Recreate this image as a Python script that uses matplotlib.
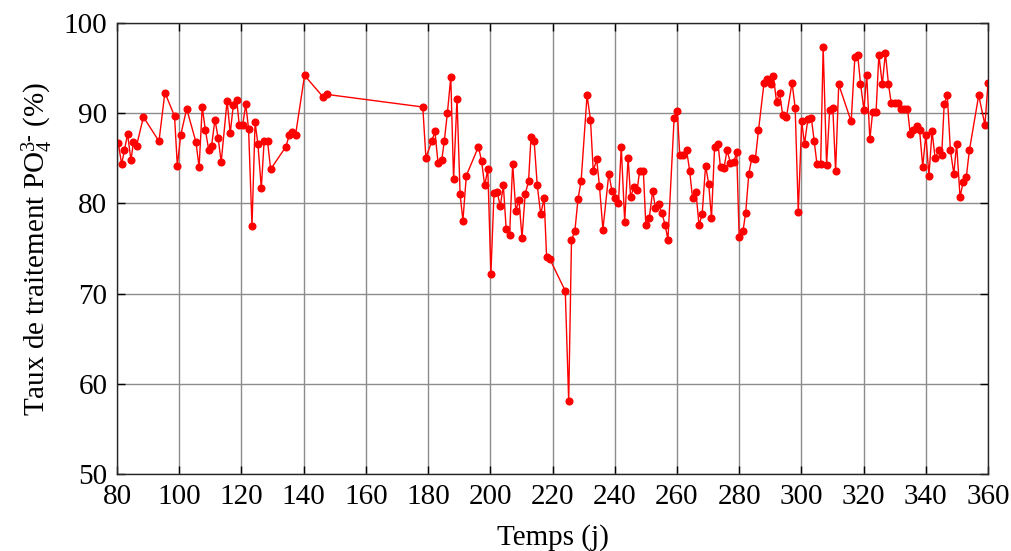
import matplotlib
matplotlib.use("Agg")
import matplotlib.pyplot as plt
import numpy as np

plt.rcParams['font.family'] = ['Liberation Serif', 'DejaVu Serif']
plt.rcParams['mathtext.fontset'] = 'custom'
plt.rcParams['mathtext.rm'] = 'Liberation Serif'
plt.rcParams['mathtext.it'] = 'Liberation Serif:italic'

# temps (j)
temps = [80.4, 81.5, 82.4, 83.4, 84.5, 85.3, 86.3, 88.5, 93.5, 95.4, 98.5, 99.4, 100.5, 102.4,
         105.4, 106.4, 107.4, 108.4, 109.5, 110.4, 111.5, 112.5, 113.5, 115.4, 116.4, 117.4,
         118.5, 119.3, 120.4, 121.4, 122.3, 123.4, 124.4, 125.3, 126.4, 127.3, 128.4, 129.4,
         134.3, 135.4, 136.4, 137.4, 140.3, 146.3, 147.4, 178.3, 179.3, 181.2, 182.2, 183.2,
         184.4, 185.2, 186.2, 187.3, 188.2, 189.3, 190.3, 191.2, 192.3, 196.2, 197.2, 198.2,
         199.2, 200.2, 201.2, 202.2, 203.2, 204.2, 205.1, 206.2, 207.2, 208.2, 209.2, 210.2,
         211.2, 212.3, 213.1, 214.1, 215.1, 216.2, 217.3, 218.1, 219.2, 224.1, 225.2, 226.1,
         227.2, 228.2, 229.2, 231.1, 232.2, 233.1, 234.2, 235.1, 236.2, 238.1, 239.1, 240.2,
         241.2, 242.1, 243.2, 244.3, 245.1, 246.1, 247.2, 248.0, 249.2, 250.0, 251.1, 252.2,
         253.1, 254.1, 255.2, 256.2, 257.1, 259.1, 260.1, 260.9, 262.0, 263.1, 264.1, 265.0,
         266.1, 267.1, 268.1, 269.2, 270.2, 271.1, 272.1, 273.2, 274.0, 275.1, 276.1, 277.2,
         278.3, 279.2, 280.0, 281.2, 282.1, 283.1, 284.1, 285.2, 286.2, 288.0, 288.8, 289.8,
         290.3, 291.0, 292.0, 293.0, 294.0, 295.2, 297.0, 298.0, 299.0, 300.1, 301.0, 302.1,
         303.2, 304.1, 305.0, 306.2, 307.0, 308.1, 309.1, 310.1, 311.0, 312.0, 316.0, 317.2,
         318.1, 319.0, 320.1, 321.0, 322.0, 322.9, 324.0, 324.9, 326.0, 327.0, 328.0, 328.9,
         330.0, 331.0, 332.0, 333.0, 334.1, 335.0, 336.0, 337.1, 338.0, 339.0, 340.0, 341.0,
         342.0, 343.0, 344.1, 345.1, 345.9, 346.9, 347.9, 349.0, 349.9, 351.0, 352.0, 353.0,
         354.0, 357.0, 359.0, 360.0]

# taux de traitement PO4 (%)
taux = [86.7, 84.4, 85.9, 87.7, 84.8, 86.8, 86.4, 89.6, 86.9, 92.3, 89.7, 84.2, 87.6, 90.5,
        86.8, 84.0, 90.7, 88.2, 85.9, 86.4, 89.3, 87.3, 84.6, 91.4, 87.8, 90.9,
        91.5, 88.7, 88.7, 91.0, 88.3, 77.5, 89.0, 86.6, 81.7, 86.9, 86.9, 83.8,
        86.3, 87.6, 87.9, 87.6, 94.2, 91.8, 92.1, 90.7, 85.1, 86.9, 88.0, 84.5,
        84.8, 86.9, 90.0, 94.0, 82.7, 91.6, 81.0, 78.1, 83.1, 86.3, 84.7, 82.0,
        83.8, 72.2, 81.2, 81.3, 79.7, 82.0, 77.2, 76.5, 84.4, 79.2, 80.4, 76.2,
        81.0, 82.5, 87.4, 86.9, 82.0, 78.8, 80.6, 74.1, 73.8, 70.3, 58.1, 75.9,
        77.0, 80.5, 82.5, 92.0, 89.3, 83.6, 84.9, 81.9, 77.1, 83.3, 81.4, 80.6,
        80.1, 86.3, 78.0, 85.1, 80.7, 81.8, 81.5, 83.6, 83.6, 77.6, 78.4, 81.4,
        79.5, 79.9, 78.9, 77.6, 76.0, 89.5, 90.3, 85.4, 85.4, 85.9, 83.6, 80.6,
        81.3, 77.6, 78.8, 84.2, 82.2, 78.4, 86.3, 86.6, 84.0, 83.9, 85.9, 84.5,
        84.6, 85.7, 76.3, 76.9, 79.0, 83.3, 85.1, 84.9, 88.1, 93.4, 93.8, 93.5,
        93.3, 94.1, 91.3, 92.2, 89.8, 89.6, 93.4, 90.6, 79.1, 89.1, 86.6, 89.4,
        89.5, 86.9, 84.4, 84.4, 97.3, 84.3, 90.4, 90.6, 83.6, 93.2, 89.1, 96.3,
        96.5, 93.3, 90.4, 94.3, 87.1, 90.1, 90.1, 96.5, 93.2, 96.7, 93.2, 91.1,
        91.1, 91.1, 90.5, 90.5, 90.5, 87.7, 88.1, 88.6, 88.1, 84.1, 87.6, 83.1,
        88.0, 85.0, 85.9, 85.4, 91.0, 92.0, 85.9, 83.3, 86.6, 80.7, 82.4, 82.9,
        85.9, 92.0, 88.7, 93.4]

fig = plt.figure(figsize=(10.11, 5.51), dpi=100)
ax = fig.add_axes([0.1157, 0.1397, 0.8616, 0.8183])

ax.plot(temps, taux, '-o', color='red', linewidth=1.0, markersize=4.8)

ax.set_xlim(80, 360)
ax.set_ylim(50, 100)
ax.set_xticks(np.arange(80, 361, 20))
ax.set_yticks(np.arange(50, 101, 10))
ax.grid(True, color='#8c8c8c', linewidth=1.0)
ax.set_axisbelow(True)
ax.tick_params(direction='in', top=True, right=True, labelsize=21, length=6, width=1, pad=7)
for s in ax.spines.values():
    s.set_linewidth(1.0)
    s.set_color('#262626')

ax.set_xlabel('Temps (j)', fontsize=21, labelpad=10)
ax.set_ylabel(r'Taux de traitement PO$_4^{3\text{-}}$ (%)', fontsize=21, labelpad=6)

fig.savefig('out.png', dpi=100)
